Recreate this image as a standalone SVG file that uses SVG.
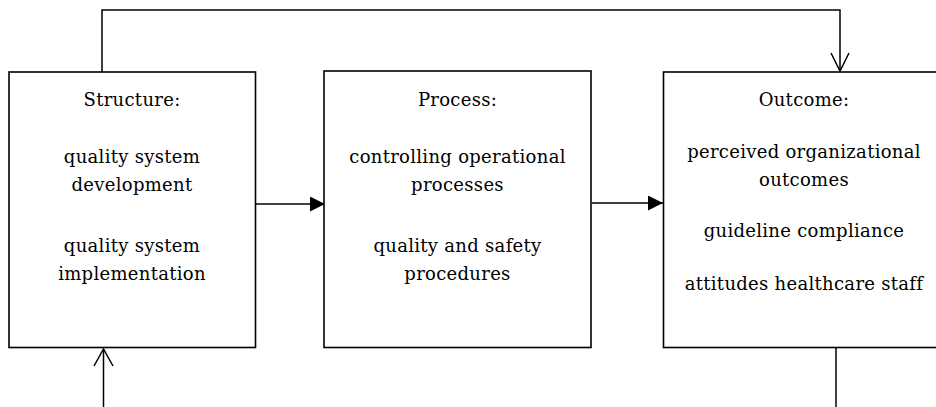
<svg xmlns="http://www.w3.org/2000/svg" width="936" height="407" viewBox="0 0 936 407">
  <style>
    .box { fill: #fff; stroke: #000; stroke-width: 1.6; }
    .line { fill: none; stroke: #000; stroke-width: 1.5; }
    .open { fill: none; stroke: #000; stroke-width: 1.5; }
    text { font-family: "DejaVu Serif", "Liberation Serif", serif; font-size: 18px; letter-spacing: 0.3px; fill: #000; text-anchor: middle; }
  </style>
  <defs>
    <marker id="solid" markerWidth="15" markerHeight="15" refX="15" refY="7.5" orient="auto" markerUnits="userSpaceOnUse">
      <path d="M0,0 L15,7.5 L0,15 Z" fill="#000"/>
    </marker>
  </defs>

  <g id="connectors">
    <!-- feedback loop from Structure over the top into Outcome -->
    <path class="line" d="M102,72 V10 H840 V71"/>
    <path class="open" d="M831,53 L840,71 L849,53"/>
    <!-- Structure -> Process -->
    <path class="line" d="M256,204 H325" marker-end="url(#solid)"/>
    <!-- Process -> Outcome -->
    <path class="line" d="M592,203 H663" marker-end="url(#solid)"/>
    <!-- input arriving from below into Structure -->
    <path class="line" d="M103.5,407 V349"/>
    <path class="open" d="M94,366 L103.5,349 L113,366"/>
    <!-- output leaving Outcome downward -->
    <path class="line" d="M836,348 V407"/>
  </g>

  <g id="structure">
    <rect class="box" x="9" y="72" width="246.5" height="275.5"/>
    <text x="132" y="105.5">Structure:</text>
    <text x="132" y="162.5">quality system</text>
    <text x="132" y="191">development</text>
    <text x="132" y="251.5">quality system</text>
    <text x="132" y="279.5">implementation</text>
  </g>

  <g id="process">
    <rect class="box" x="324" y="71" width="267" height="276.5"/>
    <text x="457.5" y="105.5">Process:</text>
    <text x="457.5" y="162.5">controlling operational</text>
    <text x="457.5" y="191">processes</text>
    <text x="457.5" y="251.5">quality and safety</text>
    <text x="457.5" y="279.5">procedures</text>
  </g>

  <g id="outcome">
    <rect class="box" x="663.5" y="72" width="282" height="275.5"/>
    <text x="804" y="105.5">Outcome:</text>
    <text x="804" y="157.5">perceived organizational</text>
    <text x="804" y="186">outcomes</text>
    <text x="804" y="237">guideline compliance</text>
    <text x="804" y="290">attitudes healthcare staff</text>
  </g>
</svg>
